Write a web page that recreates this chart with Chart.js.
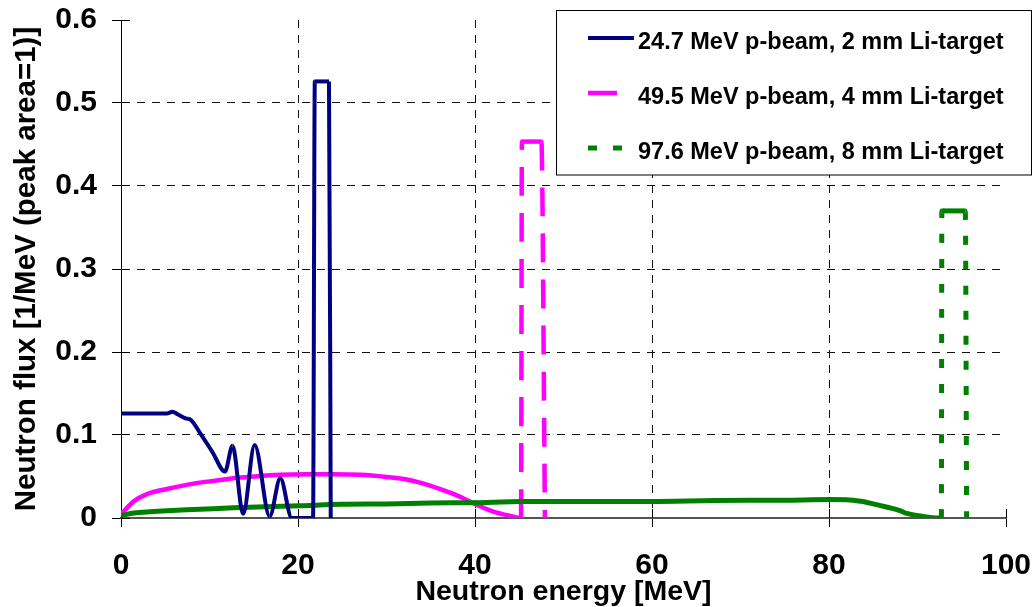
<!DOCTYPE html>
<html>
<head>
<meta charset="utf-8">
<script src="https://cdn.jsdelivr.net/npm/chart.js@4/dist/chart.umd.min.js"></script>
<style>
html,body{margin:0;padding:0;background:#fff;overflow:hidden}
canvas{display:block}
</style>
</head>
<body>
<canvas id="c" width="1033" height="607"></canvas>
<script>
// ---------- data ----------
const seriesLabels = [
  '24.7 MeV p-beam, 2 mm Li-target',
  '49.5 MeV p-beam, 4 mm Li-target',
  '97.6 MeV p-beam, 8 mm Li-target'
];
const blueEnergy = [0, 3, 5.2, 5.8, 6.4, 7.3, 7.9, 8.9, 10.3, 11.75, 12.6, 13.8, 15.1, 16.8, 18.0, 19.3, 21.7, 21.9, 23.5, 23.7];
const blueFlux   = [0.126, 0.126, 0.126, 0.128, 0.125, 0.120, 0.118, 0.103, 0.080, 0.056, 0.087, 0.005, 0.088, 0.002, 0.048, 0, 0, 0.526, 0.526, 0];

const magentaEnergy = [0, 0.45, 1.4, 3, 5.2, 7, 8.9, 11, 12.7, 15, 18, 21, 24, 27, 30, 32, 34, 36, 38, 40, 42, 44, 45.2, 45.3, 47.5, 47.9];
const magentaFlux   = [0.005, 0.0096, 0.0197, 0.029, 0.035, 0.039, 0.0426, 0.0455, 0.048, 0.050, 0.052, 0.0527, 0.0527, 0.052, 0.0495, 0.047, 0.042, 0.035, 0.027, 0.017, 0.008, 0.0025, 0, 0.4535, 0.4535, 0];

const greenEnergy = [0, 1.5, 3.3, 5.2, 8.9, 12.7, 20.2, 24.9, 30, 35, 39.9, 45.3, 52, 59.9, 67.1, 75, 80.1, 82, 83.6, 85, 86.6, 88, 88.8, 90.3, 91.4, 92.7, 92.75, 95.4, 95.55];
const greenFlux   = [0.003, 0.006, 0.0076, 0.0088, 0.0105, 0.0124, 0.0148, 0.0165, 0.017, 0.018, 0.0185, 0.0198, 0.0198, 0.0199, 0.021, 0.0215, 0.0222, 0.022, 0.0201, 0.017, 0.0129, 0.009, 0.0055, 0.0025, 0.0007, 0, 0.370, 0.370, 0];

const xTickValues = [0, 20, 40, 60, 80, 100];
const xTickLabels = ['0', '20', '40', '60', '80', '100'];
const yTickValues = [0, 0.1, 0.2, 0.3, 0.4, 0.5, 0.6];
const yTickLabels = ['0', '0.1', '0.2', '0.3', '0.4', '0.5', '0.6'];
const xTitle = 'Neutron energy [MeV]';
const yTitle = 'Neutron flux [1/MeV (peak area=1)]';

// ---------- styling ----------
const FONT = '"Liberation Sans", Arial, sans-serif';
Chart.defaults.font.family = FONT;
Chart.defaults.font.weight = 'bold';
Chart.defaults.color = '#000';

const zip = (xs, ys) => xs.map((x, i) => ({x, y: ys[i]}));

// Long (steep) segments get the dash pattern, short ones stay solid (like the original)
const dashLongSegments = ctx => Math.abs(ctx.p1.y - ctx.p0.y) > 40 ? undefined : [];

const crossTicks = {
  id: 'crossTicks',
  beforeDatasetsDraw(chart) {
    const {ctx, chartArea: a, scales: {x, y}} = chart;
    const al = p => Math.round(p - 0.5) + 0.5;
    ctx.save();
    ctx.strokeStyle = '#000';
    ctx.lineWidth = 1;
    ctx.setLineDash([]);
    ctx.beginPath();
    x.ticks.forEach(t => { const px = al(x.getPixelForValue(t.value)); ctx.moveTo(px, a.bottom); ctx.lineTo(px, a.bottom - 9); });
    y.ticks.forEach(t => { const py = al(y.getPixelForValue(t.value)); ctx.moveTo(a.left, py); ctx.lineTo(a.left + 9, py); });
    ctx.stroke();
    ctx.restore();
  }
};

const LEGEND_BOX = {x: 556.5, y: 10.5, w: 475, h: 164.5, sampleX: 588, sampleW: 46, textX: 638, firstLine: 38, rowGap: 55, baseOffset: 10.5, fontSize: 23.5};
const boxLegend = {
  id: 'boxLegend',
  afterDraw(chart) {
    const {ctx} = chart;
    const L = LEGEND_BOX;
    ctx.save();
    ctx.fillStyle = '#fff';
    ctx.fillRect(L.x, L.y, L.w, L.h);
    ctx.strokeStyle = '#000';
    ctx.lineWidth = 1;
    ctx.setLineDash([]);
    ctx.strokeRect(L.x, L.y, L.w, L.h);
    chart.data.datasets.forEach((ds, i) => {
      const cy = L.firstLine + i * L.rowGap;
      ctx.beginPath();
      ctx.setLineDash(ds.borderDash || []);
      ctx.lineDashOffset = 0;
      ctx.lineCap = 'butt';
      ctx.strokeStyle = ds.borderColor;
      ctx.lineWidth = ds.borderWidth;
      ctx.moveTo(L.sampleX, cy);
      ctx.lineTo(L.sampleX + L.sampleW, cy);
      ctx.stroke();
      ctx.setLineDash([]);
      ctx.fillStyle = '#000';
      ctx.font = 'bold ' + L.fontSize + 'px ' + FONT;
      ctx.textAlign = 'left';
      ctx.textBaseline = 'alphabetic';
      ctx.fillText(ds.label, L.textX, cy + L.baseOffset);
    });
    ctx.restore();
  }
};

const gridColor = (vals) => (ctx) => {
  const v = ctx.tick ? ctx.tick.value : null;
  if (v === null) return '#000';
  return (Math.abs(v - vals[0]) < 1e-9 || Math.abs(v - vals[vals.length - 1]) < 1e-9) ? 'rgba(0,0,0,0)' : '#111';
};

new Chart(document.getElementById('c'), {
  type: 'line',
  data: {
    datasets: [
      {label: seriesLabels[0], data: zip(blueEnergy, blueFlux), borderColor: '#000080', borderWidth: 4, borderDash: [], order: 0,
       cubicInterpolationMode: 'monotone', pointRadius: 0, fill: false, segment: {borderDash: dashLongSegments}},
      {label: seriesLabels[1], data: zip(magentaEnergy, magentaFlux), borderColor: '#FF00FF', borderWidth: 4.5, borderDash: [29, 17], order: 2,
       cubicInterpolationMode: 'monotone', pointRadius: 0, fill: false, segment: {borderDash: dashLongSegments}},
      {label: seriesLabels[2], data: zip(greenEnergy, greenFlux), borderColor: '#008000', borderWidth: 5, borderDash: [9, 16], order: 1,
       cubicInterpolationMode: 'monotone', pointRadius: 0, fill: false, segment: {borderDash: dashLongSegments}}
    ]
  },
  options: {
    responsive: false,
    animation: false,
    devicePixelRatio: 1,
    layout: {padding: {top: 20, right: 27, left: 0, bottom: 0}},
    plugins: {legend: {display: false}, tooltip: {enabled: false}},
    scales: {
      x: {
        type: 'linear', min: 0, max: 100,
        afterBuildTicks: s => { s.ticks = xTickValues.map(v => ({value: v})); },
        afterFit: s => { s.height = 89; s.paddingLeft = 0; s.paddingRight = 0; },
        ticks: {autoSkip: false, maxRotation: 0, padding: 21, font: {size: 30, weight: 'bold'}, color: '#000',
                callback: (v, i) => xTickLabels[i]},
        grid: {color: gridColor(xTickValues), lineWidth: 1, tickLength: 9, tickColor: '#000', tickBorderDash: []},
        border: {display: true, color: '#555', width: 2, dash: [8, 7]},
        title: {display: true, text: xTitle, color: '#000', font: {size: 28.5, weight: 'bold', lineHeight: 1}, padding: {top: 0, bottom: 1}}
      },
      y: {
        type: 'linear', min: 0, max: 0.6,
        afterBuildTicks: s => { s.ticks = yTickValues.map(v => ({value: v})); },
        afterFit: s => { s.width = 121; s.paddingTop = 0; s.paddingBottom = 0; },
        ticks: {autoSkip: false, padding: 15, font: {size: 30, weight: 'bold'}, color: '#000',
                callback: (v, i) => yTickLabels[i]},
        grid: {color: gridColor(yTickValues), lineWidth: 1, tickLength: 9, tickColor: '#000', tickBorderDash: []},
        border: {display: true, color: '#000', width: 1, dash: [8, 7]},
        title: {display: true, text: yTitle, color: '#000', font: {size: 29.5, weight: 'bold', lineHeight: 1}, padding: {top: 12, bottom: 0}}
      }
    }
  },
  plugins: [crossTicks, boxLegend]
});
</script>
</body>
</html>
